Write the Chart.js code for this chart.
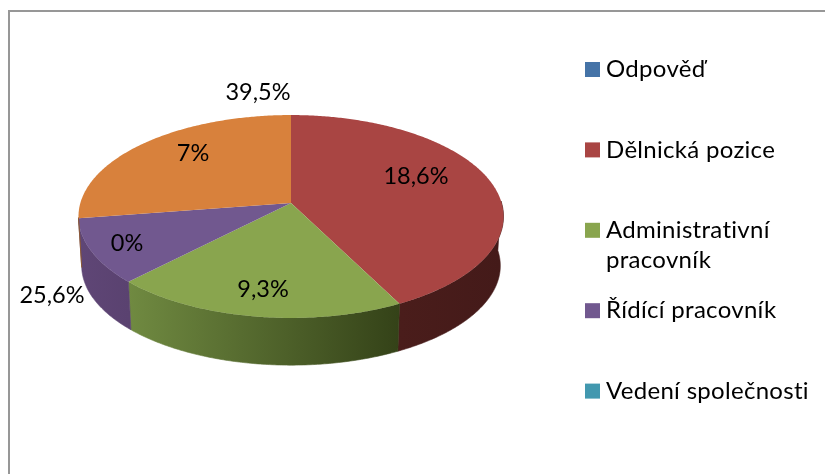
<!DOCTYPE html>
<html>
<head>
<meta charset="utf-8">
<script src="https://cdn.jsdelivr.net/npm/chart.js@4"></script>
<style>
  html, body { margin: 0; padding: 0; background: #fff; overflow: hidden; }
  #wrap { position: relative; width: 825px; height: 474px; }
  #frame { position: absolute; left: 8px; top: 10px; right: -4px; bottom: -4px; border: 2px solid #979797; }
  canvas { position: absolute; left: 0; top: 0; }
</style>
</head>
<body>
<div id="wrap">
  <div id="frame"></div>
  <canvas id="pie-chart" width="825" height="474"></canvas>
</div>
<script>
// legend entries, the first and last one have no slice
const categories = ['Odpověď', 'Dělnická pozice', ['Administrativní', 'pracovník'], 'Řídící pracovník', 'Vedení společnosti'];
// slice sizes (share of the circle, percent)
const sliceValues = [0, 42.5, 19.8, 10.3, 27.4];
// texts printed on the chart, they do not belong to the slices they sit on
const labelTexts = ['39,5%', '7%', '18,6%', '9,3%', '0%', '25,6%'];
const labelSpots = [[258, 92], [193, 153], [416, 176], [263, 289], [127, 243], [52, 295]];

const topColors = ['#4573a7', '#a94543', '#89a54e', '#71588f', '#d8813c'];
const legendColors = ['#4573a7', '#a94543', '#89a54e', '#71588f', '#4298af'];
// wall shades from left to right
const wallColors = [
    ['#2c4a6c', '#2c4a6c'],
    ['#4a1d1b', '#441a19'],
    ['#708a41', '#344218'],
    ['#5f4676', '#5a4270'],
    ['#8c5426', '#8c5426']
];

const LABEL_FONT = '23.5px Lato, "Open Sans", sans-serif';
const LEGEND_FONT = '24px Lato, "Open Sans", sans-serif';

// tilted circle: unit circle point -> screen, with a bit of perspective
const TILT = -0.133;
const SCALE_X = 1.097;
const SCALE_Y = 0.519;
const DEPTH = 49.5;

function rimPoint(arc, angle) {
    const u = Math.cos(angle), v = Math.sin(angle);
    const w = 1 + TILT * v;
    return {
        x: arc.x + arc.outerRadius * SCALE_X * u / w,
        y: arc.y + arc.outerRadius * SCALE_Y * v / w
    };
}

function lowerPoint(arc, angle) {
    const p = rimPoint(arc, angle);
    return {
        x: arc.x + (p.x - arc.x) * 0.985,
        y: arc.y + (p.y - arc.y) * 0.98 + DEPTH
    };
}

// angles along an arc, both ends included
function arcSteps(from, to) {
    const steps = [];
    for (let a = from; a < to; a += 0.01) steps.push(a);
    steps.push(to);
    return steps;
}

class Arc3d extends Chart.ArcElement {
    draw(ctx) {
        const i = this.$context.dataIndex;
        if (this.endAngle - this.startAngle < 0.001) return;
        ctx.save();

        // side wall, only the part of the rim that faces us
        const from = Math.max(this.startAngle, -0.02);
        const to = Math.min(this.endAngle, 3.0);
        if (to > from) {
            const g = ctx.createLinearGradient(rimPoint(this, to).x, 0, rimPoint(this, from).x, 0);
            g.addColorStop(0, wallColors[i][0]);
            g.addColorStop(1, wallColors[i][1]);
            ctx.fillStyle = g;
            ctx.beginPath();
            const steps = arcSteps(from, to);
            steps.forEach(a => {
                const p = rimPoint(this, a);
                ctx.lineTo(p.x, p.y);
            });
            steps.reverse().forEach(a => {
                const p = lowerPoint(this, a);
                ctx.lineTo(p.x, p.y);
            });
            ctx.closePath();
            ctx.fill();
            // same colour outline closes the hairline between two walls
            ctx.strokeStyle = g;
            ctx.lineWidth = 0.6;
            ctx.stroke();
        }

        // top face
        ctx.fillStyle = this.options.backgroundColor;
        ctx.beginPath();
        ctx.moveTo(this.x, this.y);
        arcSteps(this.startAngle, this.endAngle).forEach(a => {
            const p = rimPoint(this, a);
            ctx.lineTo(p.x, p.y);
        });
        ctx.closePath();
        ctx.fill();
        ctx.restore();
    }
}
Arc3d.id = 'arc3d';
Arc3d.defaults = Chart.ArcElement.defaults;

class Pie3d extends Chart.PieController {}
Pie3d.id = 'pie3d';
Pie3d.defaults = { dataElementType: 'arc3d' };

Chart.register(Chart.ArcElement, Chart.PieController, Arc3d, Pie3d);

// legend with the wrapped line, the built in one can not space it like this
const sideLegend = {
    id: 'sideLegend',
    afterDraw(chart) {
        const ctx = chart.ctx;
        ctx.save();
        ctx.font = LEGEND_FONT;
        ctx.letterSpacing = '0.3px';
        ctx.textBaseline = 'middle';
        categories.forEach((name, i) => {
            const y = 69.5 + i * 80.4;
            ctx.fillStyle = legendColors[i];
            ctx.fillRect(585, y - 7.5, 15, 15);
            ctx.fillStyle = '#000';
            [].concat(name).forEach((line, n) => ctx.fillText(line, 606, y + n * 30));
        });
        ctx.restore();
    }
};

const pieLabels = {
    id: 'pieLabels',
    afterDraw(chart) {
        const ctx = chart.ctx;
        ctx.save();
        ctx.font = LABEL_FONT;
        ctx.fillStyle = '#000';
        ctx.textAlign = 'center';
        ctx.textBaseline = 'middle';
        labelTexts.forEach((t, i) => ctx.fillText(t, labelSpots[i][0], labelSpots[i][1]));
        ctx.restore();
    }
};

const chart = new Chart(document.getElementById('pie-chart').getContext('2d'), {
    type: 'pie3d',
    data: {
        labels: categories,
        datasets: [{ data: sliceValues, backgroundColor: topColors, borderWidth: 0 }]
    },
    options: {
        responsive: false,
        animation: false,
        layout: { padding: { left: 11, right: 254, top: 11, bottom: 79 } },
        plugins: { legend: { display: false }, tooltip: { enabled: false } }
    },
    plugins: [sideLegend, pieLabels]
});
</script>
</body>
</html>
